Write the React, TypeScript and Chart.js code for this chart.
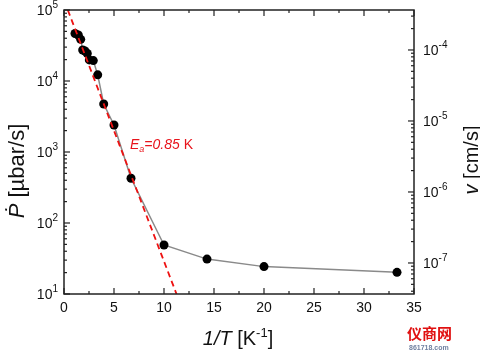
import React, { useEffect, useRef } from 'react';
import { Chart, registerables } from 'chart.js';
Chart.register(...registerables);

// 1/T [K^-1]
const invT = [1.1, 1.43, 1.67, 1.87, 2.1, 2.33, 2.53, 2.93, 3.37, 3.97, 5.0, 6.7, 10.0, 14.3, 20.0, 33.3];
// dP/dt [µbar/s]
const pRate = [46700, 44500, 38600, 27300, 26500, 24400, 19800, 19400, 12200, 4740, 2400, 427, 49, 31, 24.3, 20.2];
// Arrhenius fit, Ea = 0.85 K
const fitX = [0.38, 11.25];
const fitY = [100000, 10];

const xTickVals = [0, 5, 10, 15, 20, 25, 30, 35];
const xMinorVals = [2.5, 7.5, 12.5, 17.5, 22.5, 27.5, 32.5];
const yDecades = [1, 2, 3, 4, 5];
const vDecades = [-7, -6, -5, -4];

const X_MIN = 0, X_MAX = 35;
const Y_MIN = 10, Y_MAX = 1e5;
const V_MIN = Math.pow(10, -7.437), V_MAX = Math.pow(10, -3.437);

const FONT = '"Liberation Sans", Arial, "DejaVu Sans", sans-serif';

function drawPow(ctx: CanvasRenderingContext2D, exp: string, x: number, y: number, align: 'left' | 'right') {
  ctx.font = `14px ${FONT}`;
  const wb = ctx.measureText('10').width;
  ctx.font = `10px ${FONT}`;
  const we = ctx.measureText(exp).width;
  const start = align === 'right' ? x - wb - we : x;
  ctx.textAlign = 'left';
  ctx.textBaseline = 'middle';
  ctx.font = `14px ${FONT}`;
  ctx.fillText('10', start, y + 1);
  ctx.font = `10px ${FONT}`;
  ctx.fillText(exp, start + wb, y - 5);
}

function drawPieces(ctx: CanvasRenderingContext2D, pieces: { t: string; f: string; dy?: number }[], cx: number, cy: number) {
  let total = 0;
  for (const p of pieces) { ctx.font = p.f; total += ctx.measureText(p.t).width; }
  let x = cx - total / 2;
  ctx.textAlign = 'left';
  ctx.textBaseline = 'alphabetic';
  for (const p of pieces) {
    ctx.font = p.f;
    ctx.fillText(p.t, x, cy + (p.dy || 0));
    x += ctx.measureText(p.t).width;
  }
}

const decorPlugin = {
  id: 'decor',
  afterDatasetsDraw(chart: any) {
    const ctx: CanvasRenderingContext2D = chart.ctx;
    const { left, right, top, bottom } = chart.chartArea;
    const sx = chart.scales.x, sy = chart.scales.y, sv = chart.scales.y2;
    ctx.save();
    ctx.strokeStyle = '#222';
    ctx.fillStyle = '#111';
    ctx.lineWidth = 1.5;
    ctx.strokeRect(left, top, right - left, bottom - top);
    ctx.lineWidth = 1.2;
    const tick = (x1: number, y1: number, x2: number, y2: number) => {
      ctx.beginPath(); ctx.moveTo(x1, y1); ctx.lineTo(x2, y2); ctx.stroke();
    };
    // x ticks
    for (const v of xTickVals) {
      const px = sx.getPixelForValue(v);
      tick(px, bottom, px, bottom - 6);
      tick(px, top, px, top + 6);
    }
    for (const v of xMinorVals) {
      const px = sx.getPixelForValue(v);
      tick(px, bottom, px, bottom - 3);
      tick(px, top, px, top + 3);
    }
    // left log ticks
    for (let d = 1; d <= 5; d++) {
      for (let m = 1; m <= 9; m++) {
        const val = m * Math.pow(10, d);
        if (val < Y_MIN || val > Y_MAX) continue;
        const py = sy.getPixelForValue(val);
        tick(left, py, left + (m === 1 ? 6 : 3), py);
      }
    }
    // right log ticks
    for (let d = -8; d <= -3; d++) {
      for (let m = 1; m <= 9; m++) {
        const val = m * Math.pow(10, d);
        if (val < V_MIN || val > V_MAX) continue;
        const py = sv.getPixelForValue(val);
        tick(right, py, right - (m === 1 ? 6 : 3), py);
      }
    }
    // x labels
    ctx.font = `14px ${FONT}`;
    ctx.textAlign = 'center';
    ctx.textBaseline = 'middle';
    for (const v of xTickVals) {
      ctx.fillText(String(v), sx.getPixelForValue(v), bottom + 14);
    }
    // left labels
    for (const d of yDecades) {
      drawPow(ctx, String(d), left - 6, sy.getPixelForValue(Math.pow(10, d)), 'right');
    }
    // right labels
    for (const d of vDecades) {
      drawPow(ctx, '-' + String(-d), right + 9, sv.getPixelForValue(Math.pow(10, d)), 'left');
    }
    // x title
    drawPieces(ctx, [
      { t: '1/T', f: `italic 20px ${FONT}` },
      { t: ' [K', f: `20px ${FONT}` },
      { t: '-1', f: `13px ${FONT}`, dy: -8 },
      { t: ']', f: `20px ${FONT}` },
    ], 238, 345);
    // left title
    ctx.save();
    ctx.translate(24, 171);
    ctx.rotate(-Math.PI / 2);
    drawPieces(ctx, [
      { t: '\u1E56', f: `italic 22px ${FONT}` },
      { t: ' [\u00B5bar/s]', f: `22px ${FONT}` },
    ], 0, 0);
    ctx.restore();
    // right title
    ctx.save();
    ctx.translate(478, 160);
    ctx.rotate(-Math.PI / 2);
    drawPieces(ctx, [
      { t: 'v', f: `italic 20px ${FONT}` },
      { t: ' [cm/s]', f: `20px ${FONT}` },
    ], 0, 0);
    ctx.restore();
    // annotation
    ctx.fillStyle = '#e8141c';
    ctx.textAlign = 'left';
    ctx.textBaseline = 'alphabetic';
    let ax = 130;
    const ay = 149;
    ctx.font = `italic 14px ${FONT}`;
    ctx.fillText('E', ax, ay); ax += ctx.measureText('E').width;
    ctx.font = `italic 9px ${FONT}`;
    ctx.fillText('a', ax, ay + 3); ax += ctx.measureText('a').width;
    ctx.font = `italic 14px ${FONT}`;
    ctx.fillText('=0.85', ax, ay); ax += ctx.measureText('=0.85 ').width;
    ctx.font = `14px ${FONT}`;
    ctx.fillText('K', ax, ay);
    // watermark
    ctx.fillStyle = '#e01010';
    ctx.font = `bold 15px "Noto Sans CJK SC", sans-serif`;
    ctx.fillText('仪商网', 407, 339);
    ctx.fillStyle = '#7080a0';
    ctx.font = `bold 7px ${FONT}`;
    ctx.fillText('861718.com', 409, 350);
    ctx.restore();
  },
};

export default function App() {
  const ref = useRef<HTMLCanvasElement>(null);
  useEffect(() => {
    if (!ref.current) return;
    const chart = new Chart(ref.current, {
      type: 'scatter',
      data: {
        datasets: [
          {
            label: 'fit',
            data: fitX.map((x, i) => ({ x, y: fitY[i] })),
            showLine: true,
            borderColor: '#ee1111',
            borderWidth: 1.8,
            borderDash: [6, 4],
            pointRadius: 0,
            yAxisID: 'y',
          },
          {
            label: 'P',
            data: invT.map((x, i) => ({ x, y: pRate[i] })),
            showLine: true,
            borderColor: '#8a8a8a',
            borderWidth: 1.5,
            pointRadius: 4.5,
            pointBackgroundColor: '#000',
            pointBorderColor: '#000',
            pointBorderWidth: 0,
            yAxisID: 'y',
          },
        ],
      },
      options: {
        responsive: false,
        animation: false,
        layout: { padding: { left: 64, right: 66, top: 10, bottom: 62 } },
        plugins: { legend: { display: false }, tooltip: { enabled: false } },
        scales: {
          x: { type: 'linear', min: X_MIN, max: X_MAX, display: false },
          y: { type: 'logarithmic', min: Y_MIN, max: Y_MAX, display: false },
          y2: { type: 'logarithmic', position: 'right', min: V_MIN, max: V_MAX, display: false },
        },
      },
      plugins: [decorPlugin],
    });
    return () => chart.destroy();
  }, []);
  return (
    <div style={{ position: 'fixed', left: 0, top: 0, width: 480, height: 356, background: '#fff' }}>
      <canvas ref={ref} width={480} height={356} style={{ display: 'block', width: 480, height: 356 }} />
    </div>
  );
}
